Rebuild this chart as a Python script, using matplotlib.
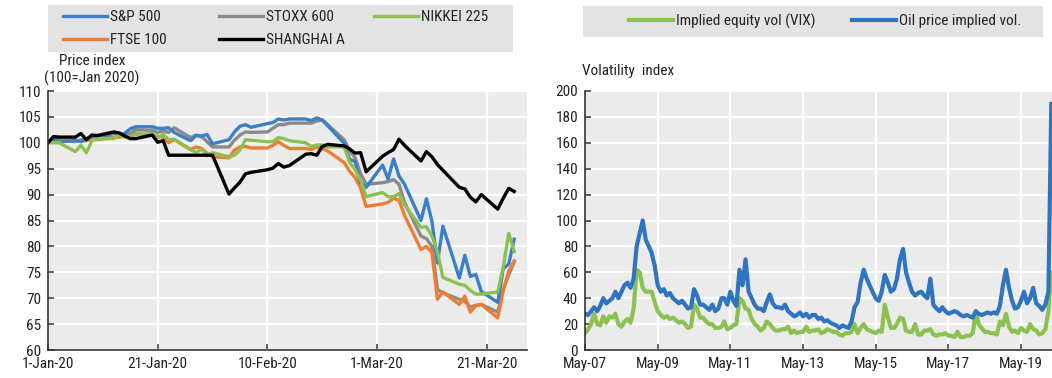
import matplotlib
matplotlib.use("Agg")
import matplotlib.pyplot as plt
import pandas as pd
import numpy as np

plt.rcParams['font.family'] = ['Roboto Condensed', 'Liberation Sans', 'DejaVu Sans']

# ---------------- Left panel data (price index, 100 = Jan 2020) ----------------
left_dates = pd.bdate_range('2020-01-01', '2020-03-26')

sp500 = [100, 100.8, 100.1, 100.5, 100.2, 100.7, 101.4, 101.1, 101.8, 101.6, 101.8, 102.7, 103.1, 103.1, 102.8, 102.8, 102.9, 102.0, 100.4, 101.4, 101.3, 101.6, 99.8,
         100.6, 102.1, 103.2, 103.5, 103.0, 103.7, 103.9, 104.6, 104.4, 104.6, 104.6, 104.3, 104.8, 104.4, 103.3, 99.9, 96.8, 96.4, 92.2, 91.4,
         95.7, 93.0, 96.9, 93.6, 92.0, 85.0, 89.2, 84.8, 76.8, 83.9, 73.9, 78.3, 74.2, 74.6, 71.3, 69.2, 75.7, 76.6, 81.4]
stoxx600 = [100, 100.9, 100.5, 100.2, 100.6, 100.6, 101.2, 101.1, 101.0, 101.3, 101.4, 101.8, 102.5, 102.4, 102.0, 102.3, 102.0, 102.9, 101.0, 101.5, 101.2, 100.2, 99.2,
            99.2, 100.5, 101.5, 102.1, 102.0, 102.1, 102.8, 103.5, 103.5, 103.8, 103.8, 103.8, 104.2, 104.4, 103.5, 100.6, 98.5, 97.1, 94.0, 92.0,
            92.3, 92.5, 92.9, 92.0, 88.5, 82.0, 81.5, 80.0, 71.7, 71.0, 69.8, 69.4, 68.3, 68.6, 68.8, 67.3, 71.7, 74.5, 77.0]
nikkei225 = [100, 100, 100, 98.3, 99.5, 98.1, 100.4, 100.8, 100.8, 101.6, 101.1, 101.2, 101.6, 101.8, 100.9, 101.6, 100.6, 100.7, 98.7, 98.1, 98.8, 97.5, 98.1,
             97.3, 97.6, 98.6, 100.6, 100.5, 100.2, 100.2, 101.0, 100.8, 100.4, 100.0, 99.3, 99.6, 99.6, 99.2, 99.2, 96.2, 94.8, 92.8, 89.6,
             90.4, 89.6, 89.6, 90.2, 88.0, 83.7, 83.8, 82.0, 79.0, 74.0, 72.7, 72.5, 71.5, 70.8, 70.8, 71.2, 76.0, 82.5, 79.0]
ftse100 = [100, 100.8, 101.1, 100.4, 100.4, 100.4, 100.7, 100.6, 101.0, 101.1, 101.3, 100.9, 101.8, 101.4, 101.3, 101.0, 100.0, 100.6, 98.7, 99.2, 98.9, 98.0, 97.3,
           97.1, 98.6, 99.2, 99.3, 99.0, 99.0, 99.5, 100.2, 99.5, 98.9, 98.9, 98.7, 99.2, 98.9, 98.4, 96.2, 94.5, 93.3, 91.3, 87.7,
           88.2, 88.5, 89.3, 88.9, 86.0, 79.4, 80.0, 78.8, 69.8, 71.2, 68.8, 70.4, 67.3, 68.6, 68.8, 66.2, 71.5, 75.2, 77.2]
shanghai_a = [100, 101.2, 101.1, 101.1, 101.8, 100.6, 101.5, 101.4, 102.1, 101.9, 101.3, 100.8, 100.8, 101.5, 100.1, 100.4, 97.6, 97.6, 97.6, 97.6, 97.6, 97.6, 97.6,
              90.1, 91.3, 92.4, 94.0, 94.3, 94.8, 95.1, 96.0, 95.3, 95.6, 97.8, 97.9, 97.6, 99.3, 99.7, 99.4, 98.8, 98.0, 98.1, 94.4,
              97.4, 98.1, 98.7, 100.7, 99.5, 96.5, 98.3, 97.3, 95.8, 94.7, 91.4, 91.1, 89.5, 88.6, 90.0, 87.2, 89.3, 91.2, 90.6]

left_ticks = ['2020-01-01', '2020-01-21', '2020-02-10', '2020-03-01', '2020-03-21']
left_tick_labels = ['1-Jan-20', '21-Jan-20', '10-Feb-20', '1-Mar-20', '21-Mar-20']

# ---------------- Right panel data (volatility index, monthly) ----------------
right_dates = pd.date_range('2007-05-01', '2020-03-01', freq='MS')
vix = [13, 16, 20, 28, 20, 19, 26, 21,
       26, 25, 28, 20, 18, 22, 24, 21, 32, 62, 60, 48,
       45, 45, 45, 37, 30, 27, 25, 26, 24, 25, 23, 21,
       22, 20, 17, 18, 35, 32, 25, 25, 22, 20, 20, 17,
       17, 18, 22, 16, 17, 19, 20, 40, 38, 32, 31, 24,
       20, 18, 15, 17, 22, 20, 17, 15, 15, 16, 16, 18,
       13, 15, 13, 14, 14, 18, 14, 15, 15, 16, 13, 14,
       16, 15, 14, 14, 12, 11, 13, 13, 14, 20, 13, 17,
       20, 16, 15, 14, 13, 15, 14, 35, 25, 17, 17, 20,
       25, 24, 15, 14, 14, 20, 12, 12, 15, 15, 16, 12,
       11, 12, 12, 13, 11, 11, 10, 14, 10, 10, 11, 11,
       13, 30, 20, 17, 14, 14, 13, 13, 12, 22, 19, 28,
       18, 14, 15, 13, 17, 15, 14, 20, 16, 15, 12, 13,
       16, 30, 60]
oil_vol = [28, 27, 30, 33, 30, 34, 40, 36,
           38, 40, 45, 40, 45, 50, 52, 48, 55, 80, 90, 100,
           85, 80, 75, 65, 50, 45, 47, 42, 44, 40, 38, 36,
           38, 35, 32, 33, 47, 42, 35, 35, 33, 31, 35, 30,
           32, 40, 40, 35, 45, 38, 34, 62, 50, 70, 45, 40,
           35, 32, 32, 30, 37, 43, 36, 33, 33, 32, 35, 30,
           28, 26, 27, 29, 26, 28, 25, 27, 27, 24, 25, 22,
           23, 21, 20, 19, 17, 19, 18, 17, 22, 33, 37, 52,
           62, 55, 50, 45, 40, 38, 45, 58, 52, 45, 47, 55,
           70, 78, 60, 52, 45, 42, 44, 45, 42, 40, 55, 35,
           32, 30, 33, 30, 28, 29, 30, 29, 27, 26, 27, 26,
           25, 30, 28, 27, 28, 29, 28, 29, 28, 34, 50, 62,
           48, 38, 32, 33, 38, 45, 36, 40, 48, 36, 34, 31,
           35, 45, 190]

right_ticks = ['2007-05-01', '2009-05-01', '2011-05-01', '2013-05-01', '2015-05-01', '2017-05-01', '2019-05-01']
right_tick_labels = ['May-07', 'May-09', 'May-11', 'May-13', 'May-15', 'May-17', 'May-19']

# ---------------- Styling ----------------
W, H = 1052, 378
C_BLUE = '#3a7fc8'
C_GRAY = '#8a8a8a'
C_GREEN = '#8cc152'
C_ORANGE = '#ee7d32'
C_BLACK = '#000000'
C_BLUE2 = '#2f74c0'
PLOT_BG = '#ebebeb'
LEG_BG = '#e3e3e3'
TXT = '#222222'
FS = 11

fig = plt.figure(figsize=(W / 100, H / 100), dpi=100)


def px_rect(x0, y0, x1, y1):
    return [x0 / W, 1 - y1 / H, (x1 - x0) / W, (y1 - y0) / H]


def style_axes(ax):
    ax.set_facecolor(PLOT_BG)
    for s in ['top', 'right']:
        ax.spines[s].set_visible(False)
    for s in ['left', 'bottom']:
        ax.spines[s].set_color('#333333')
        ax.spines[s].set_linewidth(1.2)
    ax.grid(True, color='white', linewidth=1.6)
    ax.set_axisbelow(True)
    ax.tick_params(direction='in', length=4, width=1.1, color='#333333',
                   labelsize=FS, labelcolor=TXT, pad=5)


def add_legend(handles, labels, x_px, y_px, loc='upper left'):
    leg = fig.legend(handles, labels, loc=loc, bbox_to_anchor=(x_px / W, 1 - y_px / H),
                     frameon=False, fontsize=FS, handlelength=2.9, handletextpad=0.15,
                     borderaxespad=0, borderpad=0, labelspacing=0.62)
    for t in leg.get_texts():
        t.set_color(TXT)
    return leg


# Left panel
axL = fig.add_axes(px_rect(48, 91, 527, 350))
style_axes(axL)
lines = {}
lines['STOXX 600'], = axL.plot(left_dates, stoxx600, color=C_GRAY, lw=2.4)
lines['FTSE 100'], = axL.plot(left_dates, ftse100, color=C_ORANGE, lw=2.4)
lines['S&P 500'], = axL.plot(left_dates, sp500, color=C_BLUE, lw=2.4)
lines['NIKKEI 225'], = axL.plot(left_dates, nikkei225, color=C_GREEN, lw=2.4)
lines['SHANGHAI A'], = axL.plot(left_dates, shanghai_a, color=C_BLACK, lw=2.4)
axL.set_ylim(60, 110)
axL.set_yticks(np.arange(60, 111, 5))
axL.set_xlim(pd.Timestamp('2020-01-01'), pd.Timestamp('2020-03-28 08:00'))
axL.set_xticks(pd.to_datetime(left_ticks))
axL.set_xticklabels(left_tick_labels)

# legend background (left)
fig.patches.append(plt.Rectangle((48 / W, 1 - 52 / H), (513 - 48) / W, 47 / H,
                                 transform=fig.transFigure, facecolor=LEG_BG,
                                 edgecolor='none', zorder=0))
add_legend([lines['S&P 500'], lines['FTSE 100']], ['S&P 500', 'FTSE 100'], 63, 10)
add_legend([lines['STOXX 600'], lines['SHANGHAI A']], ['STOXX 600', 'SHANGHAI A'], 219, 10)
add_legend([lines['NIKKEI 225']], ['NIKKEI 225'], 374, 10)

fig.text(92 / W, 1 - 61 / H, 'Price index', ha='center', va='center', fontsize=FS, color=TXT)
fig.text(92 / W, 1 - 78 / H, '(100=Jan 2020)', ha='center', va='center', fontsize=FS, color=TXT)

# Right panel
axR = fig.add_axes(px_rect(585, 91, 1052, 350))
style_axes(axR)
lv, = axR.plot(right_dates, vix, color=C_GREEN, lw=3)
lo, = axR.plot(right_dates, oil_vol, color=C_BLUE2, lw=3)
axR.set_ylim(0, 200)
axR.set_yticks(np.arange(0, 201, 20))
axR.set_xlim(pd.Timestamp('2007-05-01'), pd.Timestamp('2020-03-08'))
axR.set_xticks(pd.to_datetime(right_ticks))
axR.set_xticklabels(right_tick_labels)

fig.patches.append(plt.Rectangle((583 / W, 1 - 37 / H), (1043 - 583) / W, 31 / H,
                                 transform=fig.transFigure, facecolor=LEG_BG,
                                 edgecolor='none', zorder=0))
add_legend([lv], ['Implied equity vol (VIX)'], 629, 21.5, loc='center left')
add_legend([lo], ['Oil price implied vol.'], 852, 21.5, loc='center left')

fig.text(582 / W, 1 - 71 / H, 'Volatility  index', ha='left', va='center', fontsize=FS, color=TXT)

fig.savefig('out.png', dpi=100)
